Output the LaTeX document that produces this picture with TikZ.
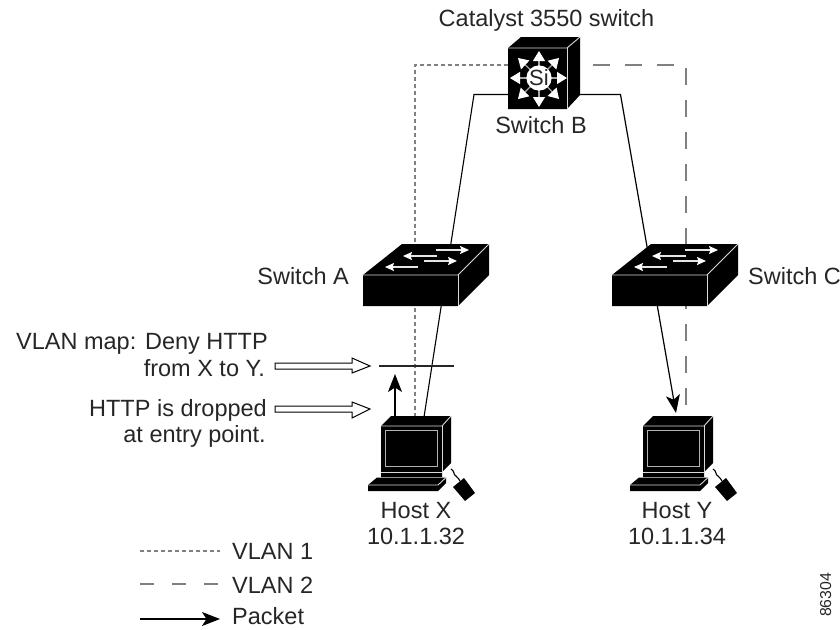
\documentclass[tikz,border=0pt]{standalone}
\usepackage{fontspec}
\setmainfont{Liberation Sans}
\usetikzlibrary{arrows.meta}
\definecolor{vgray}{gray}{0.5}
\tikzset{
 x=1pt,y=-1pt,
 lbl/.style={font=\fontsize{23.5}{24}\selectfont,inner sep=0pt,text=black!85},
 zone/.style={inner sep=0pt,draw=none},
 link/.style={line width=1.1pt,black},
 vlanone/.style={line width=1.1pt,vgray,dash pattern=on 4pt off 3pt},
 vlantwo/.style={line width=1.1pt,vgray,dash pattern=on 17pt off 15pt,dash phase=19pt},
 packet/.style={line width=1.2pt,black,-{Stealth[length=18pt,width=14pt,inset=4.5pt]}},
 hollow/.style={line width=1pt,black,fill=white,line join=miter},
 barrier/.style={line width=2.2pt,black!85},
 whiteline/.style={line width=0.9pt,white!85!black},
 wharrow/.style={line width=1.4pt,white!90!black,-{Stealth[length=9pt,width=8pt,inset=1.5pt,color=white,fill=white]}},
 starrow/.style={line width=1.2pt,white!65!black,-{Stealth[length=10pt,width=12pt,inset=0pt,color=white,fill=white]}},
}
\begin{document}
\begin{tikzpicture}
\useasboundingbox (0,0) rectangle (840,629);

% invisible node frames for the devices
\node[zone,minimum width=72pt,minimum height=72pt] (swB) at (544,73) {};
\node[zone,minimum width=126pt,minimum height=62pt] (swA) at (426,275) {};
\node[zone,minimum width=126pt,minimum height=62pt] (swC) at (675,275) {};
\node[zone,minimum width=70pt,minimum height=60pt] (hostX) at (416,446) {};
\node[zone,minimum width=70pt,minimum height=60pt] (hostY) at (678,446) {};

% junctions and ports
\coordinate (bWs) at (508,94.5);
\coordinate (bEs) at (580,94.5);
\coordinate (bWd) at (508,65);
\coordinate (bEd) at (580,65);
\coordinate (jWs) at (474,94.5);
\coordinate (jEs) at (620.5,94.5);
\coordinate (jWd) at (415,65);
\coordinate (jEd) at (686,65);
\coordinate (xTopS) at (424,417);
\coordinate (xTopD) at (415,417);
\coordinate (xTopP) at (395,417);
\coordinate (bar) at (395,374);
\coordinate (yTopS) at (676,413);
\coordinate (yTopD) at (686,417);

% connectors
\draw[vlanone] (bWd) -- (jWd) -- (xTopD);
\draw[vlantwo] (bEd) -- (jEd) -- (yTopD);
\draw[link] (bWs) -- (jWs) -- (xTopS);
\draw[packet] (bEs) -- (jEs) -- (yTopS);
\draw[packet] (xTopP) -- (bar);
\draw[barrier] (379,366) -- (454,366);

% Switch B
\fill[black] (508,48) -- (521,37) -- (580,37) -- (580,95) -- (567,109) -- (508,109) -- cycle;
\draw[whiteline] (508,48) -- (567,48) -- (580,37);
\draw[whiteline] (567,48) -- (567,109);
\foreach \tx/\ty in {539/51,539/107,510/78,567/78,518/58,559/58,518/99,559/99}
  \draw[starrow] (539,78) -- (\tx,\ty);
\node[circle,fill=white,minimum size=25pt,inner sep=0pt,font=\fontsize{22}{22}\selectfont,text=black!85] at (539,78) {Si};

% Switch A, Switch C
\foreach \dx in {0,249}{
\begin{scope}[xshift=\dx pt]
\fill[black] (363,275) -- (402,244) -- (489,244) -- (489,275) -- (458,306) -- (363,306) -- cycle;
\draw[whiteline] (363,275) -- (458,275) -- (489,244);
\draw[whiteline] (458,275) -- (458,306);
\draw[wharrow] (436,250) -- (469,250);
\draw[wharrow] (437,256) -- (403,256);
\draw[wharrow] (424,261) -- (457,261);
\draw[wharrow] (418,267) -- (385,267);
\end{scope}}

% Host X, Host Y
\foreach \dx in {0,262}{
\begin{scope}[xshift=\dx pt]
\fill[black] (381,426) -- (391,416) -- (451,416) -- (451,463) -- (442,472) -- (442,477) -- (381,477) -- cycle;
\draw[whiteline] (381,426) -- (442,426) -- (451,416);
\draw[whiteline] (442,426) -- (442,472);
\draw[line width=0.9pt,white!70!black] (385,430.5) rectangle (437,466);
\draw[line width=1.2pt,white!85!black] (381,472.5) -- (442,472.5);
\fill[black] (368,485) -- (377,477.5) -- (446,477.5) -- (446,483) -- (438,491) -- (368,491) -- cycle;
\draw[whiteline] (368,485) -- (438,485) -- (446,477.5);
\fill[black] (453,487) -- (464,478) -- (475,493) -- (465,501) -- cycle;
\draw[line width=1.1pt,black] (451,469) .. controls (455,471) and (453,475) .. (456,476) .. controls (459,477) and (458,480) .. (460,481);
\end{scope}}

% hollow arrows
\draw[hollow] (275,363) -- (352,363) -- (352,358) -- (370,366) -- (352,373) -- (352,369) -- (275,369) -- cycle;
\draw[hollow] (275,406) -- (352,406) -- (352,402) -- (370,409) -- (352,418) -- (352,412) -- (275,412) -- cycle;

% labels
\node[lbl,anchor=base] (tCat) at (546.5,27) {Catalyst 3550 switch};
\node[lbl,anchor=base] (tB) at (541,133) {Switch B};
\node[lbl,anchor=base east] (tA) at (349,284) {Switch A};
\node[lbl,anchor=base west] (tC) at (748,284) {Switch C};
\node[lbl,anchor=base east] (t1) at (268,349) {VLAN map: Deny HTTP};
\node[lbl,anchor=base east] (t2) at (265,376) {from X to Y.};
\node[lbl,anchor=base east] (t3) at (267,416) {HTTP is dropped};
\node[lbl,anchor=base east] (t4) at (266,442) {at entry point.};
\node[lbl,anchor=base] (t5) at (416,518) {Host X};
\node[lbl,anchor=base] (t6) at (416,544) {10.1.1.32};
\node[lbl,anchor=base] (t7) at (677,518) {Host Y};
\node[lbl,anchor=base] (t8) at (677,544) {10.1.1.34};
\coordinate (l1a) at (140,551); \coordinate (l1b) at (220,551);
\coordinate (l2a) at (140,584); \coordinate (l2b) at (220,584);
\coordinate (l3a) at (140,619); \coordinate (l3b) at (220,619);
\draw[vlanone] (l1a) -- (l1b);
\draw[line width=1.1pt,vgray,dash pattern=on 14pt off 18pt] (l2a) -- (l2b);
\draw[packet] (l3a) -- (l3b);
\node[lbl,anchor=base west] (t9) at (232,559) {VLAN 1};
\node[lbl,anchor=base west] (t10) at (232,593) {VLAN 2};
\node[lbl,anchor=base west] (t11) at (232,624.5) {Packet};
\node[anchor=base,rotate=90,inner sep=0pt,text=black!85,font=\fontsize{15.8}{16}\selectfont] (t12) at (831,595) {86304};
\end{tikzpicture}
\end{document}
